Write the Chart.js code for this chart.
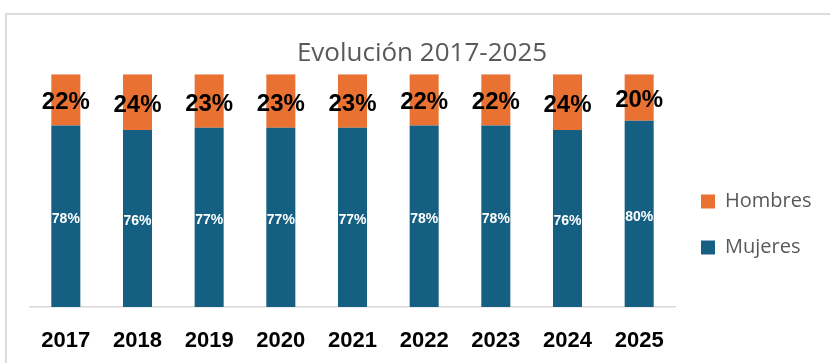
<!DOCTYPE html>
<html>
<head>
<meta charset="utf-8">
<script src="https://cdn.jsdelivr.net/npm/chart.js@4"></script>
<style>
  body { margin: 0; background: #fff; }
  #wrap { position: relative; width: 830px; height: 363px; overflow: hidden; }
  #frame { position: absolute; left: 5px; top: 13px; width: 900px; height: 400px; border: 2px solid #dcdcdc; box-sizing: border-box; }
  canvas { position: absolute; left: 0; top: 0; }
</style>
</head>
<body>
<div id="wrap">
  <div id="frame"></div>
  <canvas id="chart" width="830" height="363"></canvas>
</div>
<script>
// values
const years = ["2017", "2018", "2019", "2020", "2021", "2022", "2023", "2024", "2025"];
const mujeres = [78, 76, 77, 77, 77, 78, 78, 76, 80];
const hombres = [22, 24, 23, 23, 23, 22, 22, 24, 20];

// draws the percentage inside each bar segment
const segmentLabels = {
  id: "segmentLabels",
  afterDatasetsDraw(chart) {
    const ctx = chart.ctx;
    ctx.save();
    ctx.textAlign = "center";
    ctx.textBaseline = "middle";
    chart.data.datasets.forEach(function(ds, i) {
      const meta = chart.getDatasetMeta(i);
      meta.data.forEach(function(bar, j) {
        let y = (bar.y + bar.base) / 2;
        if (i === 0) {
          ctx.font = "bold 14px 'Liberation Sans', Arial";
          ctx.fillStyle = "#ffffff";
          y += 3;
        } else {
          ctx.font = "bold 24px 'Liberation Sans', Arial";
          ctx.fillStyle = "#000000";
          y += 3;
        }
        ctx.fillText(ds.data[j] + "%", bar.x, y);
      });
    });
    ctx.restore();
  }
};

new Chart(document.getElementById("chart"), {
  type: "bar",
  data: {
    labels: years,
    datasets: [
      {label: "Mujeres", data: mujeres, backgroundColor: "#156082"},
      {label: "Hombres", data: hombres, backgroundColor: "#E97132"}
    ]
  },
  options: {
    responsive: false,
    animation: false,
    layout: {padding: {left: 30, right: 16, top: 0, bottom: 0}},
    datasets: {bar: {barPercentage: 0.405, categoryPercentage: 1}},
    scales: {
      x: {
        stacked: true,
        grid: {display: false, drawTicks: false},
        border: {display: true, color: "#d9d9d9", width: 1.5},
        ticks: {color: "#000", padding: 21, font: {family: "'Liberation Sans', Arial", size: 22, weight: "bold"}},
        afterFit(scale) { scale.height = 56; }
      },
      y: {
        stacked: true,
        display: false,
        min: 0,
        max: 100
      }
    },
    plugins: {
      title: {
        display: true,
        text: "Evolución 2017-2025",
        color: "#595959",
        font: {family: "'Open Sans'", size: 26, weight: "normal"},
        padding: {top: 38, bottom: 5}
      },
      legend: {
        position: "right",
        reverse: true,
        align: "center",
        maxWidth: 139,
        title: {display: true, text: " ", font: {size: 10}, padding: {top: 74, bottom: 0}},
        labels: {
          color: "#595959",
          boxWidth: 14,
          boxHeight: 14,
          padding: 26,
          font: {family: "'Open Sans'", size: 20}
        }
      },
      tooltip: {enabled: false}
    }
  },
  plugins: [segmentLabels]
});
</script>
</body>
</html>
